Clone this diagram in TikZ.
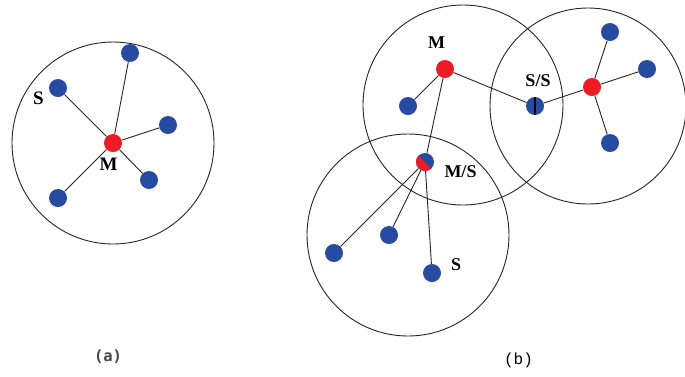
\documentclass[tikz,border=0pt]{standalone}
\usepackage{fontspec}
\setmainfont{Liberation Serif}
\newfontfamily\monof{Liberation Mono}
\newfontfamily\sansmonof{DejaVu Sans Mono}
\definecolor{dotred}{RGB}{237,28,36}
\definecolor{dotblue}{RGB}{38,75,160}
\definecolor{capgray}{RGB}{70,70,70}
\begin{document}
\begin{tikzpicture}[x=1pt,y=-1pt,
  dot/.style={circle,inner sep=0pt,minimum size=18pt},
  sdot/.style={dot,fill=dotblue},
  mdot/.style={dot,fill=dotred},
  lbla/.style={font=\bfseries\fontsize{19}{19}\selectfont,inner sep=0pt},
  lbl/.style={font=\bfseries\fontsize{18}{18}\selectfont,inner sep=0pt},
  link/.style={line width=0.9pt,black!85},
  rangecircle/.style={line width=0.9pt,black!85}]
\useasboundingbox[fill=white] (0,0) rectangle (685,376);

% ranges
\draw[rangecircle] (113,143) circle[radius=101pt];
\draw[rangecircle] (463,105) circle[radius=100pt];
\draw[rangecircle] (588,106) circle[radius=98pt];
\draw[rangecircle] (408,235) circle[radius=101pt];

% (a)
\node[mdot] (am) at (113,143) {};
\node[sdot] (a1) at (130,53) {};
\node[sdot] (a2) at (58,88) {};
\node[sdot] (a3) at (168,125) {};
\node[sdot] (a4) at (149,180) {};
\node[sdot] (a5) at (58,198) {};
\foreach \n in {a1,a2,a3,a4,a5} \draw[link] (am) -- (\n);
\node[lbla] (lam) at (108.5,164) {M};
\node[lbla] (las) at (38.5,98) {S};

% (b)
\node[mdot] (bm) at (445,69) {};
\node[sdot] (b1) at (408,106) {};
\node[sdot] (ss) at (535,106) {};
\node[mdot] (bm2) at (592,87) {};
\node[sdot] (c1) at (610,32) {};
\node[sdot] (c2) at (647,69) {};
\node[sdot] (c3) at (610,143) {};
\node[dot] (ms) at (425,162) {};
\fill[dotblue] (ms.center) circle[radius=9pt];
\fill[dotred] (ms.center) ++(135:9pt) arc[start angle=135,end angle=315,radius=9pt] -- cycle;
\draw[line width=0.6pt,black!70] (ms.center) ++(135:9pt) -- ++(315:18pt);
\node[sdot] (d1) at (334,253) {};
\node[sdot] (d2) at (389,235) {};
\node[sdot] (d3) at (432,273) {};

\draw[link] (bm) -- (b1);
\draw[link] (bm) -- (ss);
\draw[link] (ss) -- (bm2);
\foreach \n in {c1,c2,c3} \draw[link] (bm2) -- (\n);
\draw[link] (bm) -- (ms);
\foreach \n in {d1,d2,d3} \draw[link] (ms) -- (\n);
\draw[line width=1.3pt] (ss.north) -- (ss.south);

\node[lbl] (lbm) at (436.5,43) {M};
\node[lbl] (lss) at (538,81) {S/S};
\node[lbl] (lms) at (460.5,172) {M/S};
\node[lbl] (lbs) at (456,265) {S};

% captions
\node[font=\sansmonof\bfseries\fontsize{15.5}{15.5}\selectfont,text=capgray] (capa) at (108,357) {(a)};
\node[font=\monof\fontsize{16}{16}\selectfont] (capb) at (518.5,360) {(b)};
\end{tikzpicture}
\end{document}
